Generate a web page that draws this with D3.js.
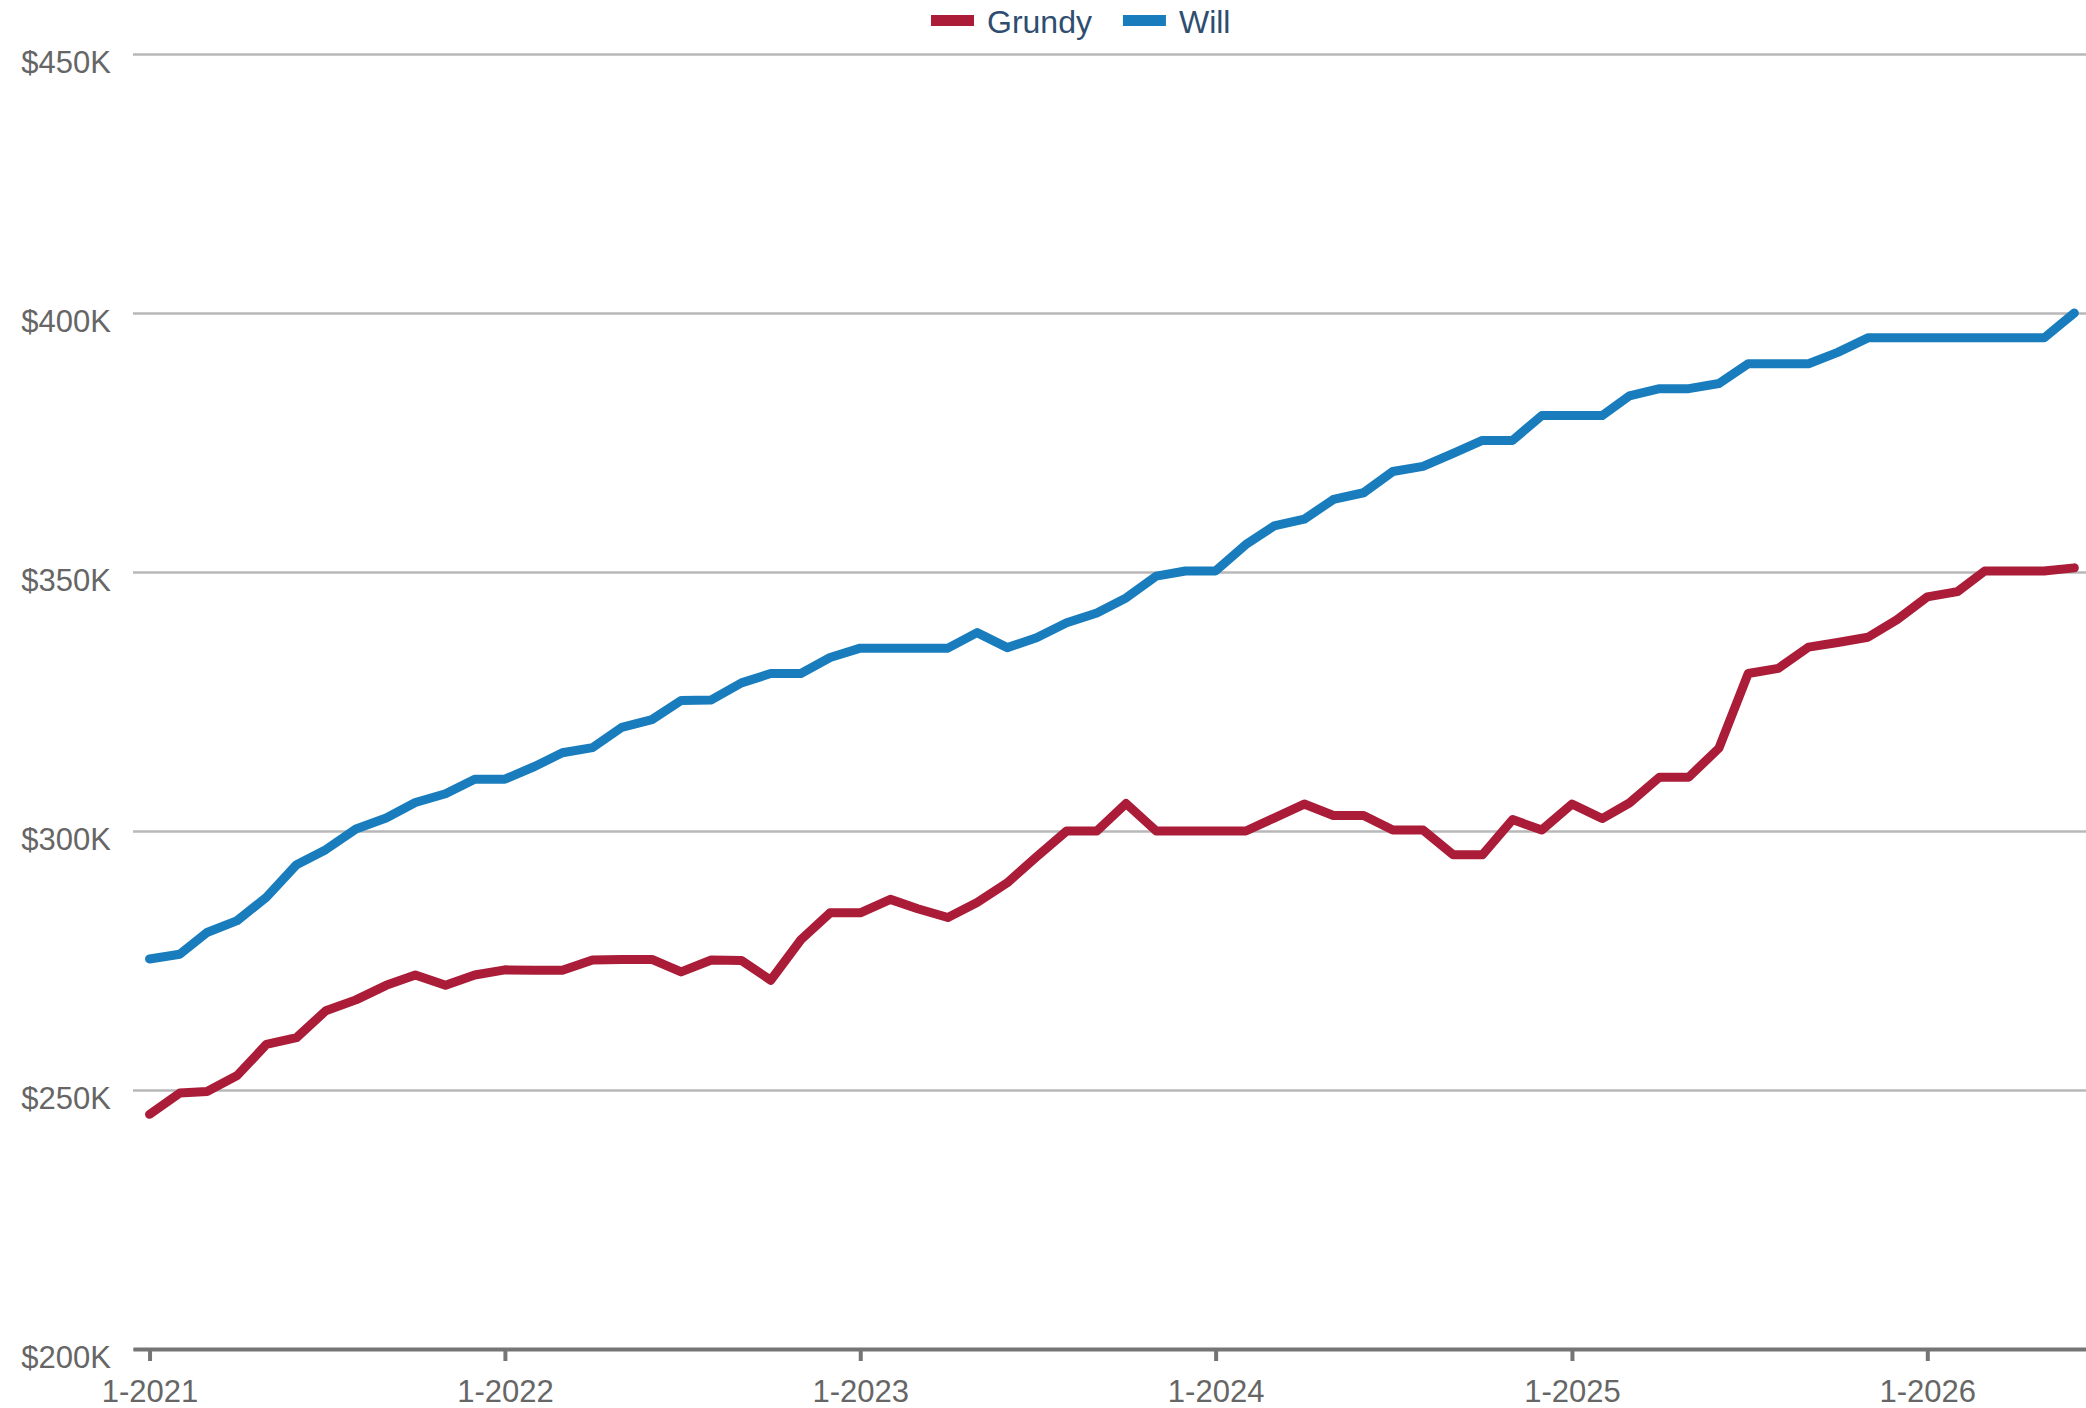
<!DOCTYPE html>
<html lang="en">
<head>
<meta charset="UTF-8">
<title>Grundy vs Will</title>
<script src="https://d3js.org/d3.v7.min.js"></script>
<style>
    body { margin: 0; background: #fff; }
    svg { display: block; font-family: "Liberation Sans", Arial, sans-serif; }
    .tick text { fill: #666; font-size: 31px; }
    .legend text { fill: #2f4d6f; font-size: 32px; }
</style>
</head>
<body>
<div id="chart"></div>
<script>
// monthly points, Jan 2021 .. Jun 2026
const months = [
    "2021-01","2021-02","2021-03","2021-04","2021-05","2021-06","2021-07","2021-08","2021-09","2021-10","2021-11","2021-12",
    "2022-01","2022-02","2022-03","2022-04","2022-05","2022-06","2022-07","2022-08","2022-09","2022-10","2022-11","2022-12",
    "2023-01","2023-02","2023-03","2023-04","2023-05","2023-06","2023-07","2023-08","2023-09","2023-10","2023-11","2023-12",
    "2024-01","2024-02","2024-03","2024-04","2024-05","2024-06","2024-07","2024-08","2024-09","2024-10","2024-11","2024-12",
    "2025-01","2025-02","2025-03","2025-04","2025-05","2025-06","2025-07","2025-08","2025-09","2025-10","2025-11","2025-12",
    "2026-01","2026-02","2026-03","2026-04","2026-05","2026-06"
];
// values in $K
const grundy = [245.3, 249.4, 249.7, 252.8, 258.8, 260.1, 265.3, 267.4, 270.2, 272.2,
    270.2, 272.2, 273.2, 273.1, 273.1, 275.1, 275.2, 275.2, 272.8, 275.1,
    275.0, 271.2, 279.0, 284.2, 284.2, 286.8, 285.0, 283.3, 286.2, 290.0,
    295.0, 300.0, 300.0, 305.3, 300.0, 300.0, 300.0, 300.0, 302.5, 305.2,
    303.0, 303.0, 300.2, 300.2, 295.4, 295.4, 302.2, 300.2, 305.2, 302.4,
    305.4, 310.4, 310.4, 316.0, 330.4, 331.4, 335.5, 336.4, 337.4, 340.8,
    345.2, 346.2, 350.2, 350.2, 350.2, 350.8];
const will = [275.3, 276.2, 280.4, 282.7, 287.2, 293.5, 296.4, 300.4, 302.5, 305.5,
    307.2, 310.0, 310.0, 312.5, 315.1, 316.1, 320.0, 321.5, 325.2, 325.3,
    328.6, 330.4, 330.4, 333.5, 335.3, 335.3, 335.3, 335.3, 338.3, 335.4,
    337.3, 340.2, 342.1, 345.0, 349.2, 350.2, 350.2, 355.3, 358.9, 360.2,
    364.0, 365.3, 369.4, 370.4, 372.9, 375.4, 375.4, 380.2, 380.2, 380.2,
    384.0, 385.4, 385.4, 386.4, 390.2, 390.2, 390.2, 392.4, 395.2, 395.2,
    395.2, 395.2, 395.2, 395.2, 395.2, 400.0];
const yTicks = [200, 250, 300, 350, 400, 450];
const seriesNames = ["Grundy", "Will"];
const seriesColors = ["#aa1c37", "#197dbd"];

const W = 2086, H = 1408;
const plotLeft = 133, plotRight = W, plotTop = 54, plotBottom = 1349;

const parse = d3.utcParse("%Y-%m");
const dates = months.map(parse);

const svg = d3.select("#chart").append("svg").attr("width", W).attr("height", H);

const x = d3.scaleUtc()
    .domain([new Date(Date.UTC(2020, 11, 15)), new Date(Date.UTC(2026, 5, 13))])
    .range([plotLeft, plotRight]);
const y = d3.scaleLinear().domain([200, 450]).range([plotBottom, plotTop]);

// gridlines + y labels
const gy = svg.append("g").attr("transform", `translate(${plotLeft},0)`)
    .call(d3.axisLeft(y).tickValues(yTicks).tickSize(-(plotRight - plotLeft)).tickPadding(22)
        .tickFormat(d => `$${d}K`));
gy.select(".domain").remove();
gy.selectAll(".tick line").attr("stroke", "#b8b8b8").attr("stroke-width", 2.5);
gy.selectAll(".tick text").attr("dy", 18);

// x axis
const gx = svg.append("g").attr("transform", `translate(0,${plotBottom})`)
    .call(d3.axisBottom(x).ticks(d3.utcYear.every(1)).tickSize(12).tickSizeOuter(0).tickPadding(19)
        .tickFormat(d => `${d.getUTCMonth() + 1}-${d.getUTCFullYear()}`));
gx.select(".domain").attr("stroke", "#757575").attr("stroke-width", 4);
gx.selectAll(".tick line").attr("stroke", "#757575").attr("stroke-width", 4);

// lines
const line = d3.line().x((d, i) => x(dates[i])).y(d => y(d));
[grundy, will].forEach((vals, k) => {
    svg.append("path")
        .datum(vals)
        .attr("d", line)
        .attr("fill", "none")
        .attr("stroke", seriesColors[k])
        .attr("stroke-width", 9)
        .attr("stroke-linecap", "round")
        .attr("stroke-linejoin", "round");
});

// legend
const legend = svg.append("g").attr("class", "legend");
let lx = 931;
seriesNames.forEach((name, k) => {
    legend.append("rect").attr("x", lx).attr("y", 15).attr("width", 43).attr("height", 11)
        .attr("fill", seriesColors[k]);
    const t = legend.append("text").attr("x", lx + 56).attr("y", 33).text(name);
    lx += 56 + t.node().getComputedTextLength() + 31;
});
</script>
</body>
</html>
